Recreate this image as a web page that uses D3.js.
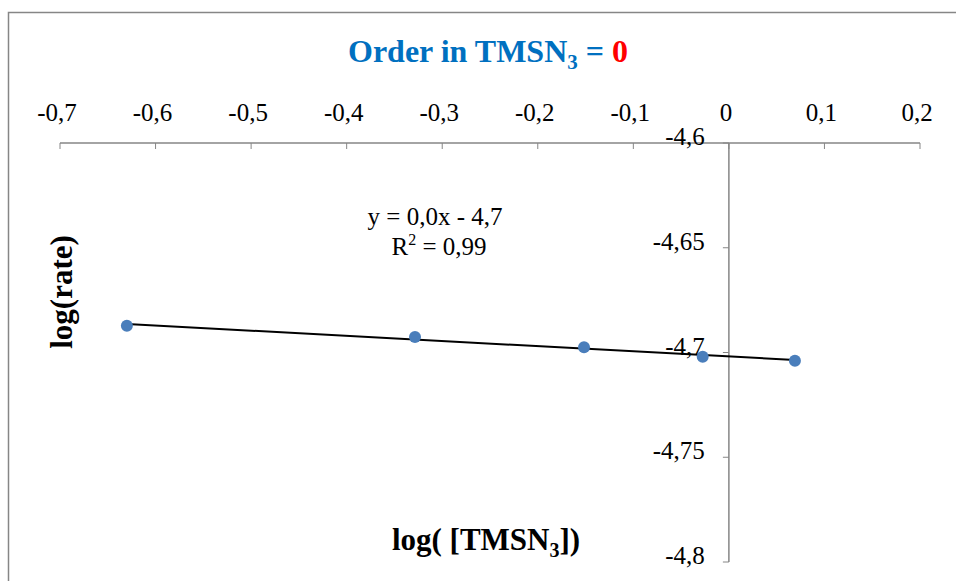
<!DOCTYPE html>
<html><head><meta charset="utf-8">
<script src="https://cdn.jsdelivr.net/npm/d3@7"></script>
<style>body{margin:0;background:#fff}svg{display:block}text{font-family:"Liberation Serif",Cambria,serif}</style>
</head><body>
<svg id="c" width="956" height="581"></svg>
<script>
const logTMSN3 = [-0.630, -0.3285, -0.1516, -0.0274, 0.0691];
const logRate = [-4.6872, -4.6926, -4.6975, -4.7020, -4.7039];
const xTicks = [-0.7, -0.6, -0.5, -0.4, -0.3, -0.2, -0.1, 0, 0.1, 0.2];
const yTicks = [-4.6, -4.65, -4.7, -4.75, -4.8];
const eqLines = ["y = 0,0x - 4,7", "R² = 0,99"];

const svg = d3.select("#c");
const x = d3.scaleLinear().domain([-0.7, 0.2]).range([60, 920]);
const y = d3.scaleLinear().domain([-4.6, -4.8]).range([143, 562]);
const fmt = v => String(+v.toFixed(2)).replace(".", ",");
const grey = "#868686";

// outer border
svg.append("path").attr("d","M8.5,581 V12.5 H956").attr("fill","none").attr("stroke",grey).attr("stroke-width",1.5);

// x axis at top
const gx = svg.append("g");
gx.append("line").attr("x1",x(-0.7)).attr("x2",x(0.2)).attr("y1",143).attr("y2",143).attr("stroke",grey).attr("stroke-width",1.5);
gx.selectAll("line.t").data(xTicks).join("line").attr("class","t")
  .attr("x1",d=>x(d)).attr("x2",d=>x(d)).attr("y1",143).attr("y2",149).attr("stroke",grey);
gx.selectAll("text").data(xTicks).join("text")
  .attr("x",d=>x(d)-3).attr("y",121).attr("text-anchor","middle").attr("font-size",25)
  .attr("fill","#000").text(d=>fmt(d));

// y axis at x=0
const gy = svg.append("g");
gy.append("line").attr("x1",x(0)).attr("x2",x(0)).attr("y1",143).attr("y2",562).attr("stroke",grey).attr("stroke-width",1.5);
gy.selectAll("line.t").data(yTicks).join("line").attr("class","t")
  .attr("x1",x(0)-6).attr("x2",x(0)).attr("y1",d=>y(d)).attr("y2",d=>y(d)).attr("stroke",grey);
gy.selectAll("text").data(yTicks).join("text")
  .attr("x",x(0)-24).attr("y",d=>y(d)+2).attr("text-anchor","end").attr("font-size",25)
  .attr("fill","#000").text(d=>fmt(d));

// trendline (least squares)
const mx = d3.mean(logTMSN3), my = d3.mean(logRate);
const slope = d3.sum(logTMSN3.map((v,i)=>(v-mx)*(logRate[i]-my))) / d3.sum(logTMSN3.map(v=>(v-mx)**2));
const icpt = my - slope*mx;
const xe = d3.extent(logTMSN3);
svg.append("line").attr("x1",x(xe[0])).attr("x2",x(xe[1]))
  .attr("y1",y(icpt+slope*xe[0])).attr("y2",y(icpt+slope*xe[1]))
  .attr("stroke","#000").attr("stroke-width",2);

// points
svg.selectAll("circle").data(logTMSN3).join("circle")
  .attr("cx",d=>x(d)).attr("cy",(d,i)=>y(logRate[i])).attr("r",6).attr("fill","#4a7ebb");

// equation
const eq = svg.append("text").attr("text-anchor","middle").attr("font-size",25).attr("fill","#000");
eq.append("tspan").attr("x",435).attr("y",225).text(eqLines[0]);
const l2 = eq.append("tspan").attr("x",439).attr("y",255);
l2.append("tspan").text("R");
l2.append("tspan").attr("font-size",16).attr("dy",-10).text("2");
l2.append("tspan").attr("dy",10).text(" = 0,99");

// title
const t = svg.append("text").attr("x",488).attr("y",62).attr("text-anchor","middle")
  .attr("font-size",32).attr("font-weight","bold").attr("fill","#0070c0");
t.append("tspan").text("Order in TMSN");
t.append("tspan").attr("font-size",21).attr("dy",7).text("3");
t.append("tspan").attr("dy",-7).text(" = ");
t.append("tspan").attr("fill","#ff0000").text("0");

// axis titles
const xt = svg.append("text").attr("x",486).attr("y",550).attr("text-anchor","middle")
  .attr("font-size",31).attr("font-weight","bold").attr("fill","#000");
xt.append("tspan").text("log( [TMSN");
xt.append("tspan").attr("font-size",20).attr("dy",7).text("3");
xt.append("tspan").attr("dy",-7).text("])");

svg.append("text").attr("transform","translate(72,292) rotate(-90)").attr("text-anchor","middle")
  .attr("font-size",31).attr("font-weight","bold").attr("fill","#000").text("log(rate)");
</script>
</body></html>
